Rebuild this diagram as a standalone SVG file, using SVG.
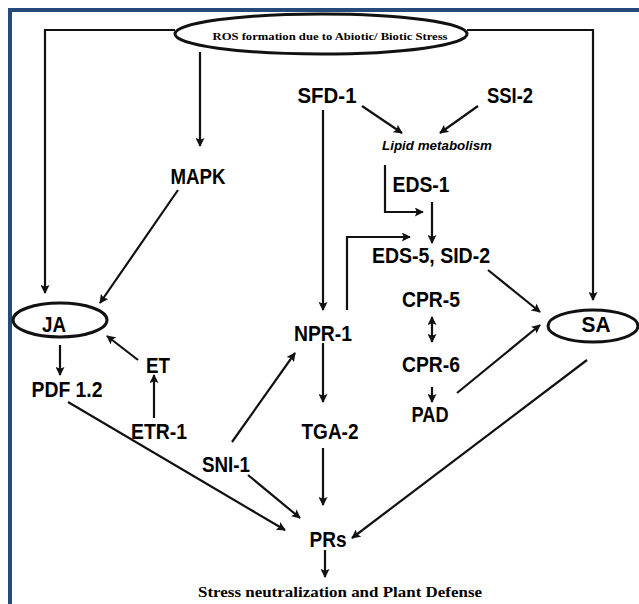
<svg xmlns="http://www.w3.org/2000/svg" width="639" height="604" viewBox="0 0 639 604">
<style>
.ln{fill:none;stroke:#111;stroke-width:2.2}
.lb{font-family:"Liberation Sans",Arial,sans-serif;font-weight:bold;font-size:22px;fill:#000;text-anchor:middle}
.sr{font-family:"Liberation Serif","Times New Roman",serif;font-weight:bold;fill:#000;text-anchor:middle}
.el{fill:#fff;stroke:#111;stroke-width:3}
</style>
<defs>
<marker id="ah" viewBox="0 0 10 10" refX="9" refY="5" markerWidth="10" markerHeight="9" markerUnits="userSpaceOnUse" orient="auto-start-reverse">
<path d="M0,0 L10,5 L0,10 L2,5 z" fill="#111"/>
</marker>
</defs>
<rect width="639" height="604" fill="#fff"/>
<g id="frame" fill="#264B7B">
<rect x="8" y="8" width="631" height="4"/>
<rect x="8" y="8" width="4" height="596"/>
</g>
<g id="connectors">
<polyline class="ln" points="175,30 45,30 45,293" marker-end="url(#ah)"/>
<polyline class="ln" points="467,30 593,30 593,300" marker-end="url(#ah)"/>
<line class="ln" x1="200" y1="52" x2="200" y2="146" marker-end="url(#ah)"/>
<line class="ln" x1="178" y1="190" x2="100" y2="303" marker-end="url(#ah)"/>
<line class="ln" x1="323" y1="110" x2="323" y2="310" marker-end="url(#ah)"/>
<line class="ln" x1="362" y1="106" x2="402" y2="133" marker-end="url(#ah)"/>
<line class="ln" x1="478" y1="106" x2="440" y2="133" marker-end="url(#ah)"/>
<polyline class="ln" points="385,165 385,212 423,212" marker-end="url(#ah)"/>
<line class="ln" x1="432" y1="202" x2="432" y2="243" marker-end="url(#ah)"/>
<polyline class="ln" points="347,310 347,237 410,237" marker-end="url(#ah)"/>
<line class="ln" x1="488" y1="270" x2="540" y2="312" marker-end="url(#ah)"/>
<line class="ln" x1="457" y1="393" x2="540" y2="325" marker-end="url(#ah)"/>
<line class="ln" x1="432" y1="317" x2="432" y2="342" marker-start="url(#ah)" marker-end="url(#ah)"/>
<line class="ln" x1="432" y1="387" x2="432" y2="402" marker-end="url(#ah)"/>
<line class="ln" x1="60" y1="345" x2="60" y2="375" marker-end="url(#ah)"/>
<line class="ln" x1="138" y1="360" x2="107" y2="336" marker-end="url(#ah)"/>
<line class="ln" x1="154" y1="418" x2="154" y2="375" marker-end="url(#ah)"/>
<line class="ln" x1="68" y1="402" x2="285" y2="530" marker-end="url(#ah)"/>
<line class="ln" x1="232" y1="442" x2="295" y2="353" marker-end="url(#ah)"/>
<line class="ln" x1="323" y1="343" x2="323" y2="402" marker-end="url(#ah)"/>
<line class="ln" x1="248" y1="475" x2="300" y2="518" marker-end="url(#ah)"/>
<line class="ln" x1="323" y1="448" x2="323" y2="505" marker-end="url(#ah)"/>
<line class="ln" x1="587" y1="360" x2="352" y2="538" marker-end="url(#ah)"/>
<line class="ln" x1="325" y1="550" x2="325" y2="577" marker-end="url(#ah)"/>
</g>
<g id="ros">
<ellipse class="el" cx="321" cy="34" rx="146" ry="20"/>
<text class="sr" x="330" y="40" font-size="11" textLength="235" lengthAdjust="spacingAndGlyphs">ROS formation due to Abiotic/ Biotic Stress</text>
</g>
<g id="mapk"><text class="lb" x="198" y="184" textLength="55" lengthAdjust="spacingAndGlyphs">MAPK</text></g>
<g id="sfd1"><text class="lb" x="327" y="103" textLength="59" lengthAdjust="spacingAndGlyphs">SFD-1</text></g>
<g id="ssi2"><text class="lb" x="510" y="103" textLength="46" lengthAdjust="spacingAndGlyphs">SSI-2</text></g>
<g id="lipid"><text x="437" y="150" font-family="Liberation Sans,Arial,sans-serif" font-weight="bold" font-style="italic" font-size="12" text-anchor="middle" textLength="110" lengthAdjust="spacingAndGlyphs">Lipid metabolism</text></g>
<g id="eds1"><text class="lb" x="421" y="192" textLength="57" lengthAdjust="spacingAndGlyphs">EDS-1</text></g>
<g id="eds5"><text class="lb" x="431" y="263" textLength="118" lengthAdjust="spacingAndGlyphs">EDS-5, SID-2</text></g>
<g id="npr1"><text class="lb" x="323" y="341" textLength="58" lengthAdjust="spacingAndGlyphs">NPR-1</text></g>
<g id="tga2"><text class="lb" x="330" y="439" textLength="57" lengthAdjust="spacingAndGlyphs">TGA-2</text></g>
<g id="cpr5"><text class="lb" x="431" y="307" textLength="58" lengthAdjust="spacingAndGlyphs">CPR-5</text></g>
<g id="cpr6"><text class="lb" x="431" y="372" textLength="58" lengthAdjust="spacingAndGlyphs">CPR-6</text></g>
<g id="pad"><text class="lb" x="430" y="422" textLength="37" lengthAdjust="spacingAndGlyphs">PAD</text></g>
<g id="ja">
<ellipse class="el" cx="60" cy="320" rx="47" ry="17"/>
<text class="lb" x="54" y="332" textLength="24" lengthAdjust="spacingAndGlyphs">JA</text>
</g>
<g id="sa">
<ellipse class="el" cx="593" cy="326" rx="45" ry="16"/>
<text class="lb" x="596" y="332" textLength="29" lengthAdjust="spacingAndGlyphs">SA</text>
</g>
<g id="et"><text class="lb" x="158" y="373" textLength="24" lengthAdjust="spacingAndGlyphs">ET</text></g>
<g id="pdf12"><text class="lb" x="67" y="397" textLength="71" lengthAdjust="spacingAndGlyphs">PDF 1.2</text></g>
<g id="etr1"><text class="lb" x="159" y="439" textLength="56" lengthAdjust="spacingAndGlyphs">ETR-1</text></g>
<g id="sni1"><text class="lb" x="226" y="472" textLength="48" lengthAdjust="spacingAndGlyphs">SNI-1</text></g>
<g id="prs"><text class="lb" x="328" y="547" textLength="37" lengthAdjust="spacingAndGlyphs">PRs</text></g>
<g id="stress"><text class="sr" x="340" y="597" font-size="14" textLength="284" lengthAdjust="spacingAndGlyphs">Stress neutralization and Plant Defense</text></g>
</svg>
